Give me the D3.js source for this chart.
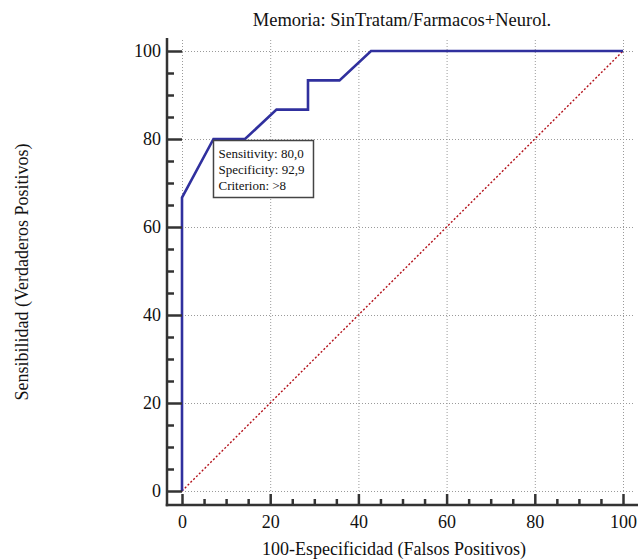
<!DOCTYPE html>
<html>
<head>
<meta charset="utf-8">
<script src="https://cdn.jsdelivr.net/npm/d3@7"></script>
<style>
  html, body { margin: 0; padding: 0; background: #fff; }
  svg { display: block; font-family: "Liberation Serif", "Times New Roman", serif; }
</style>
</head>
<body>
<svg id="chart" width="638" height="560"></svg>
<script>
// ROC curve: false positive rate (100-specificity) vs sensitivity
const fpr = [0, 0, 7.14, 14.29, 21.43, 28.57, 28.57, 35.71, 42.86, 100];
const tpr = [0, 66.67, 80, 80, 86.67, 86.67, 93.33, 93.33, 100, 100];
const majorTicks = [0, 20, 40, 60, 80, 100];
const minorTicks = d3.range(0, 101, 5).filter(v => v % 20 !== 0);
const title = "Memoria: SinTratam/Farmacos+Neurol.";
const xTitle = "100-Especificidad (Falsos Positivos)";
const yTitle = "Sensibilidad (Verdaderos Positivos)";
const marker = { fpr: 7.14, tpr: 80 };
const markerLines = ["Sensitivity: 80,0", "Specificity: 92,9", "Criterion: >8"];

const svg = d3.select("#chart");
const x = d3.scaleLinear().domain([0, 100]).range([182, 623]);
const y = d3.scaleLinear().domain([0, 100]).range([491, 51]);

const axisX = 167, axisY = 505;
const axisColor = "#333";

// grid
const grid = svg.append("g").attr("stroke", "#9a9a9a").attr("stroke-width", 1)
  .attr("stroke-dasharray", "1,2");
grid.selectAll(".gv").data(majorTicks).join("line")
  .attr("x1", d => x(d) + 0.5).attr("x2", d => x(d) + 0.5)
  .attr("y1", y(0)).attr("y2", 39);
grid.selectAll(".gh").data(majorTicks).join("line")
  .attr("x1", x(0)).attr("x2", 635)
  .attr("y1", d => y(d) + 0.5).attr("y2", d => y(d) + 0.5);

// diagonal reference line
svg.append("line")
  .attr("x1", x(0)).attr("y1", y(0)).attr("x2", x(100)).attr("y2", y(100))
  .attr("stroke", "#b3111a").attr("stroke-width", 1.4).attr("stroke-dasharray", "2,2");

// ROC curve
const line = d3.line().x((d, i) => x(fpr[i])).y((d, i) => y(tpr[i]));
svg.append("path")
  .datum(fpr)
  .attr("d", line)
  .attr("fill", "none")
  .attr("stroke", "#30309e")
  .attr("stroke-width", 2.6)
  .attr("stroke-linejoin", "miter");

// left axis (ticks point inward)
const yAxisG = svg.append("g").attr("transform", `translate(${axisX},0)`);
yAxisG.call(d3.axisLeft(y).tickValues(majorTicks).tickSizeInner(-(x(0) - axisX)).tickSizeOuter(0).tickPadding(6));
const yMinorG = svg.append("g").attr("transform", `translate(${axisX},0)`);
yMinorG.call(d3.axisLeft(y).tickValues(minorTicks).tickSizeInner(-7).tickSizeOuter(0).tickFormat(""));

// bottom axis (ticks point inward)
const xAxisG = svg.append("g").attr("transform", `translate(0,${axisY})`);
xAxisG.call(d3.axisBottom(x).tickValues(majorTicks).tickSizeInner(-11).tickSizeOuter(0).tickPadding(10));
const xMinorG = svg.append("g").attr("transform", `translate(0,${axisY})`);
xMinorG.call(d3.axisBottom(x).tickValues(minorTicks).tickSizeInner(-6).tickSizeOuter(0).tickFormat(""));

[yAxisG, yMinorG, xAxisG, xMinorG].forEach(g => {
  g.select(".domain").remove();
  g.selectAll(".tick line").attr("stroke", axisColor).attr("stroke-width", 2.5);
  g.selectAll(".tick text").attr("fill", "#111").attr("font-size", 18)
    .attr("font-family", "Liberation Serif, Times New Roman, serif");
});
xAxisG.selectAll(".tick text").attr("dy", "0.71em");

// axis lines
svg.append("line").attr("x1", axisX).attr("x2", axisX).attr("y1", 38).attr("y2", axisY + 1.25)
  .attr("stroke", axisColor).attr("stroke-width", 2.5);
svg.append("line").attr("x1", axisX - 1.25).attr("x2", 638).attr("y1", axisY).attr("y2", axisY)
  .attr("stroke", axisColor).attr("stroke-width", 2.5);

// titles
svg.append("text").attr("x", 402).attr("y", 26).attr("text-anchor", "middle")
  .attr("font-size", 18.5).attr("fill", "#111").text(title);
svg.append("text").attr("x", 394).attr("y", 555).attr("text-anchor", "middle")
  .attr("font-size", 18).attr("fill", "#111").text(xTitle);
svg.append("text").attr("transform", "translate(28,272) rotate(-90)").attr("text-anchor", "middle")
  .attr("font-size", 18).attr("fill", "#111").text(yTitle);

// criterion marker box
const bx = x(marker.fpr), by = y(marker.tpr) + 1.5;
const box = svg.append("g").attr("transform", `translate(${bx},${by})`);
box.append("rect").attr("width", 100).attr("height", 57)
  .attr("fill", "#fff").attr("stroke", "#444").attr("stroke-width", 1.5);
box.selectAll("text").data(markerLines).join("text")
  .attr("x", 5).attr("y", (d, i) => 17 + i * 16)
  .attr("font-size", 13).attr("fill", "#111").text(d => d);
</script>
</body>
</html>
